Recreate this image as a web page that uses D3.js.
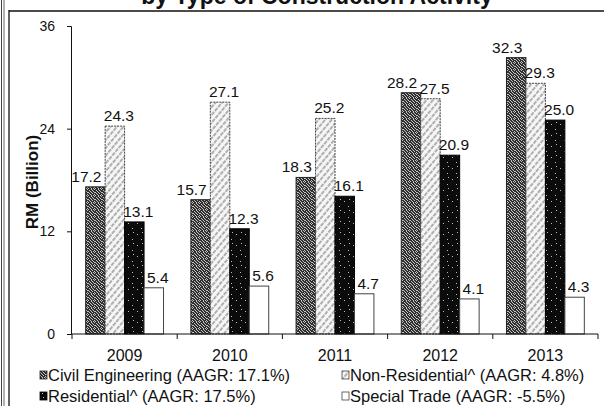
<!DOCTYPE html>
<html>
<head>
<meta charset="utf-8">
<script src="https://cdn.jsdelivr.net/npm/d3@7"></script>
<style>
  html, body { margin: 0; padding: 0; background: #fff; }
  svg { display: block; }
  text { font-family: "Liberation Sans", Arial, sans-serif; fill: #111; }
</style>
</head>
<body>
<svg id="chart" width="604" height="406"></svg>
<script>
// Construction work done, RM billion, by type of activity
const years = ["2009", "2010", "2011", "2012", "2013"];
const seriesNames = ["Civil Engineering", "Non-Residential^", "Residential^", "Special Trade"];
const civilEngineering = [17.2, 15.7, 18.3, 28.2, 32.3];
const nonResidential = [24.3, 27.1, 25.2, 27.5, 29.3];
const residential = [13.1, 12.3, 16.1, 20.9, 25.0];
const specialTrade = [5.4, 5.6, 4.7, 4.1, 4.3];
const aagr = ["17.1%", "4.8%", "17.5%", "-5.5%"];
const yTicks = [0, 12, 24, 36];
const title = "by Type of Construction Activity";
const yTitle = "RM (Billion)";

const seriesValues = [civilEngineering, nonResidential, residential, specialTrade];

const svg = d3.select("#chart");
const defs = svg.append("defs");

// ---- fill textures ----
// speckled dark grey
const speckA = defs.append("pattern").attr("id", "pat-civil")
  .attr("width", 7).attr("height", 7).attr("patternUnits", "userSpaceOnUse");
speckA.append("rect").attr("width", 7).attr("height", 7).attr("fill", "#2f2f2f");
[[0,0],[3,0],[5,1],[1,1],[6,2],[2,2],[4,3],[0,3],[5,4],[1,4],[3,5],[6,5],[2,6],[4,6],[0,6],[3,3]].forEach(([x, y]) =>
  speckA.append("rect").attr("x", x).attr("y", y).attr("width", 1).attr("height", 1).attr("fill", "#c4c4c4"));

// light diagonal hatch
const hatch = defs.append("pattern").attr("id", "pat-nonres")
  .attr("width", 5).attr("height", 5).attr("patternUnits", "userSpaceOnUse")
  .attr("patternTransform", "rotate(40)");
hatch.append("rect").attr("width", 5).attr("height", 5).attr("fill", "#f6f6f6");
hatch.append("line").attr("x1", 1).attr("y1", 0).attr("x2", 1).attr("y2", 5)
  .attr("stroke", "#8a8a8a").attr("stroke-width", 1.3).attr("stroke-dasharray", "2 1");

// black with sparse white flecks
const flecks = defs.append("pattern").attr("id", "pat-res")
  .attr("width", 9).attr("height", 11).attr("patternUnits", "userSpaceOnUse");
flecks.append("rect").attr("width", 9).attr("height", 11).attr("fill", "#0b0b0b");
[[2,3],[6,8],[7,1]].forEach(([x, y]) =>
  flecks.append("rect").attr("x", x).attr("y", y).attr("width", 1).attr("height", 1).attr("fill", "#bdbdbd"));

const fills = ["url(#pat-civil)", "url(#pat-nonres)", "url(#pat-res)", "#fff"];
const strokes = ["#222", "#444", "#000", "#444"];
// value labels sit slightly off-centre so neighbouring labels don't collide
const labelShift = [-9, 4, 4, 4];

// ---- frame ----
svg.append("line").attr("x1", 1.5).attr("x2", 1.5).attr("y1", 0).attr("y2", 406).attr("stroke", "#444").attr("stroke-width", 1);
svg.append("line").attr("x1", 4).attr("x2", 4).attr("y1", 0).attr("y2", 406).attr("stroke", "#666").attr("stroke-width", 1);
svg.append("line").attr("x1", 9).attr("x2", 9).attr("y1", 10).attr("y2", 406).attr("stroke", "#111").attr("stroke-width", 1.3);
svg.append("line").attr("x1", 9).attr("x2", 604).attr("y1", 11).attr("y2", 11).attr("stroke", "#111").attr("stroke-width", 1.3);

svg.append("text").attr("x", 317).attr("y", 3.5).attr("text-anchor", "middle")
  .attr("font-size", 23).attr("font-weight", "bold").text(title);

// ---- scales ----
const x0 = d3.scaleBand().domain(years).range([72, 598]).paddingInner(0.26).paddingOuter(0.13);
const x1 = d3.scaleBand().domain(d3.range(seriesNames.length)).range([0, x0.bandwidth()]);
const y = d3.scaleLinear().domain([0, 36]).range([334, 26]);

// ---- y axis ----
const yAxis = svg.append("g").attr("transform", "translate(71,0)")
  .call(d3.axisLeft(y).tickValues(yTicks).tickSize(4).tickPadding(12).tickFormat(d3.format("d")));
yAxis.select(".domain").attr("stroke", "#111");
yAxis.selectAll(".tick line").attr("stroke", "#111");
yAxis.selectAll(".tick text").attr("font-size", 14).attr("font-family", "Liberation Sans, Arial, sans-serif").attr("fill", "#111");

svg.append("text")
  .attr("transform", `translate(38,${(y(0) + y(36)) / 2 + 2}) rotate(-90)`)
  .attr("text-anchor", "middle").attr("font-size", 17).attr("font-weight", "bold").text(yTitle);

// ---- bars, then value labels on top ----
const cells = [];
years.forEach((yr, i) => seriesValues.forEach((vals, s) => cells.push({ yr, s, v: vals[i] })));

const plot = svg.append("g");
plot.selectAll("rect").data(cells).join("rect")
  .attr("x", d => x0(d.yr) + x1(d.s)).attr("width", x1.bandwidth())
  .attr("y", d => y(d.v)).attr("height", d => y(0) - y(d.v))
  .attr("fill", d => fills[d.s]).attr("stroke", d => strokes[d.s]).attr("stroke-width", 1)
  .attr("stroke-dasharray", d => d.s === 1 ? "2 1" : null);

plot.selectAll("text").data(cells).join("text")
  .attr("x", d => x0(d.yr) + x1(d.s) + x1.bandwidth() / 2 + labelShift[d.s])
  .attr("y", d => y(d.v) - 5)
  .attr("text-anchor", "middle").attr("font-size", 15.5)
  .text(d => d3.format(".1f")(d.v));

// ---- x axis ----
const xAxisY = y(0);
svg.append("line").attr("x1", 71).attr("x2", 598).attr("y1", xAxisY).attr("y2", xAxisY).attr("stroke", "#111");
const step = x0.step();
const bounds = d3.range(years.length + 1).map(k => x0.range()[0] + k * step);
svg.append("g").selectAll("line").data(bounds).join("line")
  .attr("x1", d => d).attr("x2", d => d).attr("y1", xAxisY).attr("y2", xAxisY + 5).attr("stroke", "#111");
svg.append("g").selectAll("text").data(years).join("text")
  .attr("x", d => x0(d) + x0.bandwidth() / 2).attr("y", 361)
  .attr("text-anchor", "middle").attr("font-size", 16).text(d => d);

// ---- legend ----
const legendPos = [[40, 381], [342, 381], [40, 402], [342, 402]];
seriesNames.forEach((name, s) => {
  const [lx, ly] = legendPos[s];
  svg.append("rect").attr("x", lx).attr("y", ly - 10).attr("width", 7).attr("height", 8)
    .attr("fill", fills[s]).attr("stroke", strokes[s]).attr("stroke-width", 0.8);
  svg.append("text").attr("x", lx + 8).attr("y", ly).attr("font-size", 16.5)
    .text(`${name} (AAGR: ${aagr[s]})`);
});
</script>
</body>
</html>
